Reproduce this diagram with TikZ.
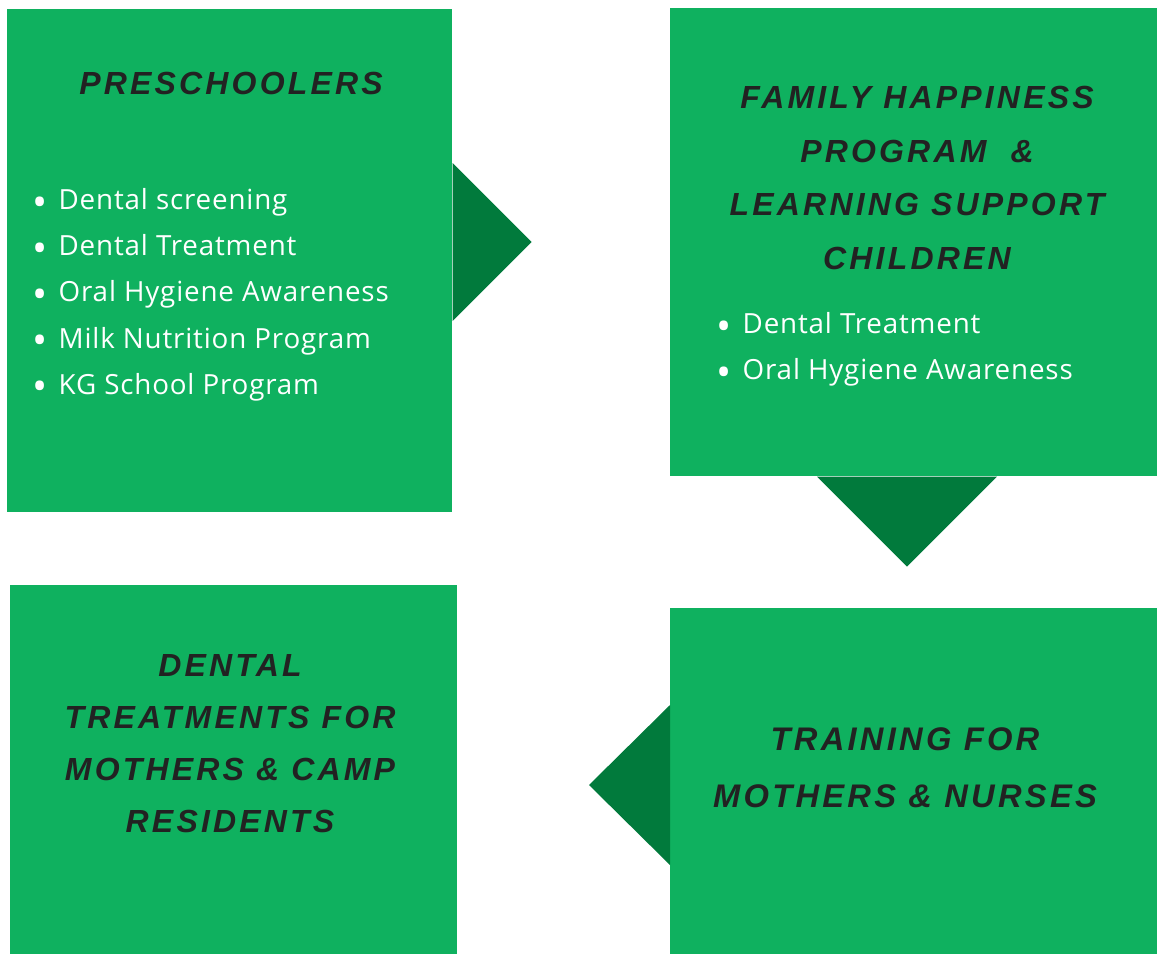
\documentclass[tikz,border=0pt]{standalone}
\usepackage{fontspec}
\newfontfamily\headfont[LetterSpace=10]{Liberation Sans}
\newfontfamily\listfont[LetterSpace=3]{Open Sans}
\definecolor{boxgreen}{HTML}{0FB15F}
\definecolor{tipgreen}{HTML}{017A3C}
\definecolor{ink}{HTML}{222222}
\newcommand\bul[1]{\makebox[15pt][l]{\raisebox{-3.8pt}{\scalebox{1.45}{\textbullet}}}#1}

\begin{document}
\begin{tikzpicture}[x=0.02cm, y=-0.02cm,
    box/.style={fill=boxgreen, inner sep=0pt, anchor=north west},
    tip/.style={fill=tipgreen},
    head/.style={text=ink, align=center, inner sep=0pt,
      font=\headfont\bfseries\itshape\fontsize{18.2}{30.7}\selectfont},
    items/.style={text=white, align=left, anchor=north west, inner sep=0pt,
      font=\listfont\fontsize{15.8}{26.3}\selectfont}]
    \path[use as bounding box] (0,0) rectangle (1157,954);
    % Boxes.
    \node[box, minimum width=8.9cm, minimum height=10.06cm] (pre) at (7,9) {};
    \node[box, minimum width=9.74cm, minimum height=9.36cm] (fam) at (670,8) {};
    \node[box, minimum width=8.94cm, minimum height=7.38cm] (dent) at (10,585) {};
    \node[box, minimum width=9.74cm, minimum height=6.92cm] (train) at (670,608) {};
    % Pointers.
    \fill[tip] (pre.north east) ++(0,154) -- ++(79,79) -- ++(-79,79) -- cycle;
    \fill[tip] (fam.south west) ++(147,0) -- ++(90,90) -- ++(90,-90) -- cycle;
    \fill[tip] (train.north west) ++(0,97) -- ++(-81,80) -- ++(81,80) -- cycle;
    % Titles.
    \node[head] (pre-title) at (231,83) {PRESCHOOLERS};
    \node[head] (fam-title) at (917,178)
      {FAMILY HAPPINESS\\PROGRAM \ \&\\LEARNING SUPPORT\\CHILDREN};
    \node[head, font=\headfont\bfseries\itshape\fontsize{18.2}{29.6}\selectfont]
      (dent-title) at (230,744)
      {DENTAL\\TREATMENTS FOR\\MOTHERS \& CAMP\\RESIDENTS};
    \node[head, font=\headfont\bfseries\itshape\fontsize{18.6}{32.4}\selectfont]
      (train-title) at (905,768) {TRAINING FOR\\MOTHERS \& NURSES};
    % Lists.
    \node[items] (pre-list) at (32,188)
      {\bul{Dental screening}\\\bul{Dental Treatment}\\\bul{Oral Hygiene Awareness}\\
       \bul{Milk Nutrition Program}\\\bul{KG School Program}};
    \node[items] (fam-list) at (716,312)
      {\bul{Dental Treatment}\\\bul{Oral Hygiene Awareness}};
  \end{tikzpicture}
\end{document}
